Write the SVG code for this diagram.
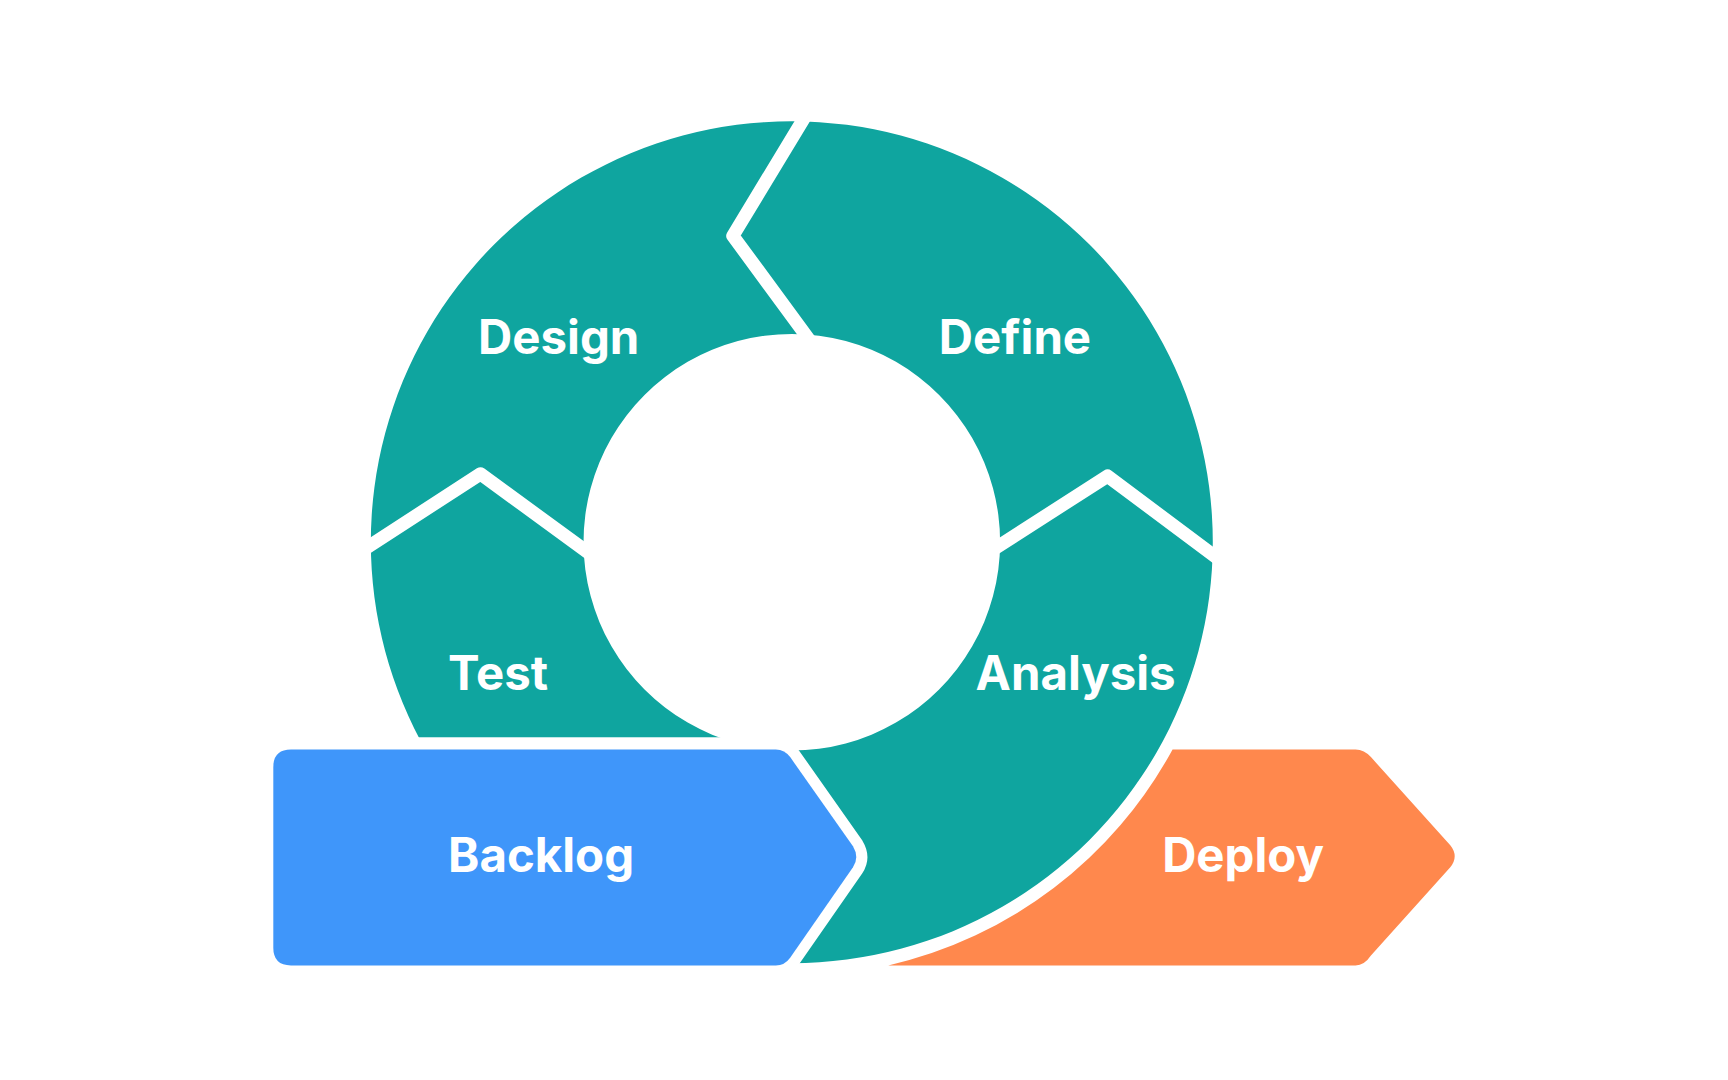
<svg xmlns="http://www.w3.org/2000/svg" width="1728" height="1080" viewBox="0 0 1728 1080">
<style>
.lbl{font-family:Inter,"Liberation Sans",sans-serif;font-weight:700;font-size:43px;fill:#fff;text-anchor:middle}
.div{fill:none;stroke:#fff;stroke-width:12;stroke-linejoin:round;stroke-linecap:butt}
</style>
<rect width="1728" height="1080" fill="#fff"/>
<g transform="scale(1.10204)">
<g id="ring">
<path d="M718.5,110 A382,382 0 1 1 718.49,110 Z M718.5,303 A189,189 0 1 0 718.51,303 Z" fill="#0FA59F" fill-rule="evenodd"/>
</g>
<g id="connectors">
<polyline class="div" points="734,100 665,214 737,312"/>
<polyline class="div" points="325,502 436,430 540,506"/>
<polyline class="div" points="896,502 1005,432 1112,512"/>
<rect x="230" y="669" width="492" height="20" fill="#fff"/>
</g>
<g id="design"><text class="lbl" x="507" y="321">Design</text></g>
<g id="define"><text class="lbl" x="921" y="321">Define</text></g>
<g id="test"><text class="lbl" x="452" y="626">Test</text></g>
<g id="analysis"><text class="lbl" x="976" y="626">Analysis</text></g>
<g id="backlog">
<path d="M264,680 H704 Q712,680 717,687 L774,768 Q780,778 774,787 L717,869 Q712,876 704,876 H264 Q248,876 248,860 V696 Q248,680 264,680 Z" fill="#3F96FA" stroke="#fff" stroke-width="20" stroke-linejoin="round" paint-order="stroke"/>
<text class="lbl" x="491" y="791">Backlog</text>
</g>
<g id="deploy">
<path d="M1064,680 H1230 Q1238,680 1244,687 L1316,767 Q1324,777 1316,787 L1244,867 Q1238,876 1230,876 H806 A393,393 0 0 0 1064,680 Z" fill="#FF884D"/>
<text class="lbl" x="1128" y="791">Deploy</text>
</g>
</g>
</svg>
